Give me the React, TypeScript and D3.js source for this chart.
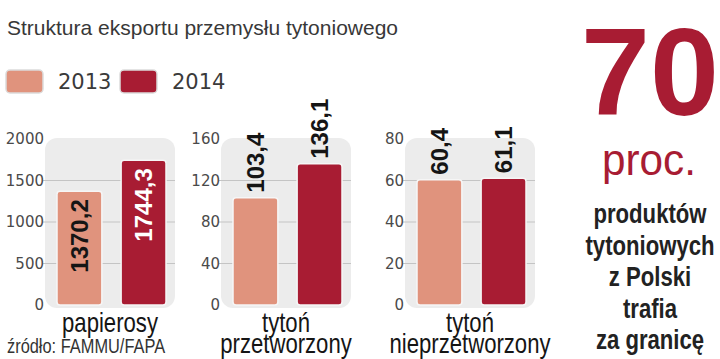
import React from 'react';
import * as d3 from 'd3';

const years = ['2013', '2014'];
const categories = [['papierosy'], ['tytoń', 'przetworzony'], ['tytoń', 'nieprzetworzony']];
const values2013 = [1370.2, 103.4, 60.4];
const values2014 = [1744.3, 136.1, 61.1];
const axisMax = [2000, 160, 80];
const axisTicks = [
  [0, 500, 1000, 1500, 2000],
  [0, 40, 80, 120, 160],
  [0, 20, 40, 60, 80],
];
const title = 'Struktura eksportu przemysłu tytoniowego';
const source = 'źródło: FAMMU/FAPA';
const bigNumber = '70';
const bigUnit = 'proc.';
const sideText = ['produktów', 'tytoniowych', 'z Polski', 'trafia', 'za granicę'];

const width = 720;
const height = 359;
const colors = ['#e0937d', '#a81c33'];
const sans = '"Liberation Sans", Arial, sans-serif';
const panelLeft = [45, 221, 405];
const panelWidth = 130;
const labelInside = [true, false, false];

const fmt = (v: number) => d3.format('.1f')(v).replace('.', ',');

// no narrow font installed, so squeeze the regular one
const Narrow = ({ x, y, sx = 0.82, children, ...rest }: any) => (
  <text transform={`translate(${x},${y}) scale(${sx},1)`} fontFamily={sans} {...rest}>
    {children}
  </text>
);

const Panel = ({ i }: { i: number }) => {
  const y = d3.scaleLinear().domain([0, axisMax[i]]).range([305, 139]);
  const x = d3
    .scaleBand<string>()
    .domain(years)
    .range([panelLeft[i] + 12, panelLeft[i] + panelWidth - 9])
    .paddingInner(0.3);
  const vals = [values2013[i], values2014[i]];
  const cx = panelLeft[i] + panelWidth / 2;
  return (
    <g>
      <rect x={panelLeft[i]} y={138} width={panelWidth} height={170} rx={12} fill="#ececec" />
      {axisTicks[i].map((t) => (
        <g key={t}>
          {t > 0 && t < axisMax[i] && (
            <line x1={panelLeft[i] - 2} x2={panelLeft[i] + panelWidth} y1={y(t)} y2={y(t)} stroke="#c4c4c4" strokeWidth={1} />
          )}
          <text x={panelLeft[i] - 1} y={y(t)} dy="0.35em" textAnchor="end" fontFamily="DejaVu Sans" fontSize={15} fill="#4a4a4a">
            {t}
          </text>
        </g>
      ))}
      {vals.map((v, j) => {
        const bx = x(years[j])!;
        const bw = x.bandwidth();
        const top = y(v);
        const mx = bx + bw / 2;
        const inside = labelInside[i];
        const ly = inside ? top + 8 : top - 5;
        return (
          <g key={j}>
            <rect x={bx} y={top} width={bw} height={y(0) - top} rx={3} fill={colors[j]} stroke="#f6f6f6" strokeWidth={1.5} />
            <text
              transform={`translate(${mx},${ly}) rotate(-90)`}
              dy="0.36em"
              textAnchor={inside ? 'end' : 'start'}
              fontFamily={sans}
              fontWeight="bold"
              fontSize={24}
              fill={inside && j === 1 ? '#ffffff' : '#151515'}
            >
              {fmt(v)}
            </text>
          </g>
        );
      })}
      {categories[i].map((line, k) => (
        <Narrow key={k} x={cx} y={332 + k * 21} textAnchor="middle" fontSize={27} fill="#151515">
          {line}
        </Narrow>
      ))}
    </g>
  );
};

export default function App() {
  return (
    <svg width={width} height={height} style={{ position: 'absolute', left: 0, top: 0, background: '#fff' }}>
      <text x={7} y={35} fontFamily={sans} fontSize={21} fill="#383838">
        {title}
      </text>
      {years.map((yr, j) => (
        <g key={yr} transform={`translate(${6 + j * 114},70)`}>
          <rect x={0} y={0} width={37} height={23} rx={4} fill={colors[j]} stroke="#dcdcdc" strokeWidth={1.5} />
          <text x={52} y={19} fontFamily="DejaVu Sans" fontSize={21} fill="#3a3a3a">
            {yr}
          </text>
        </g>
      ))}
      {[0, 1, 2].map((i) => (
        <Panel key={i} i={i} />
      ))}
      <Narrow x={7} y={353} fontSize={20} fill="#333">
        {source}
      </Narrow>
      <text x={650} y={115} textAnchor="middle" fontFamily={sans} fontWeight="bold" fontSize={124} fill={colors[1]}>
        {bigNumber}
      </text>
      <Narrow x={649} y={175} sx={0.94} textAnchor="middle" fontSize={45} fill={colors[1]}>
        {bigUnit}
      </Narrow>
      {sideText.map((line, k) => (
        <Narrow key={k} x={650} y={223 + k * 31.5} textAnchor="middle" fontWeight="bold" fontSize={27} fill="#222">
          {line}
        </Narrow>
      ))}
    </svg>
  );
}
